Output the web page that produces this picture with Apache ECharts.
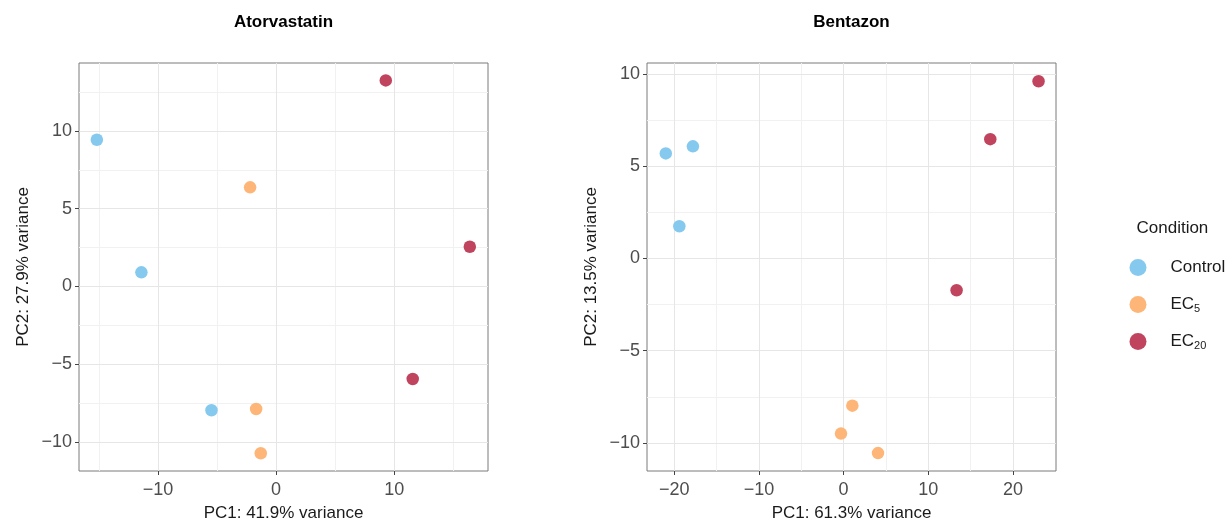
<!DOCTYPE html>
<html>
<head>
<meta charset="utf-8">
<script src="https://cdn.jsdelivr.net/npm/echarts@6/dist/echarts.min.js"></script>
<style>
html,body{margin:0;padding:0;background:#fff;}
#chart{width:1229px;height:524px;}
</style>
</head>
<body>
<div id="chart"></div>
<script>
// ---- data (PC1, PC2) ----
const conditions = ['Control', 'EC5', 'EC20'];
const panelTitles = ['Atorvastatin', 'Bentazon'];
const xNames = ['PC1: 41.9% variance', 'PC1: 61.3% variance'];
const yNames = ['PC2: 27.9% variance', 'PC2: 13.5% variance'];

const atorControl = [[-15.17, 9.43], [-11.4, 0.9], [-5.47, -7.97]];
const atorEC5 = [[-2.2, 6.37], [-1.69, -7.89], [-1.3, -10.74]];
const atorEC20 = [[9.28, 13.25], [16.39, 2.55], [11.56, -5.96]];
const bentControl = [[-21.0, 5.7], [-17.8, 6.08], [-19.4, 1.75]];
const bentEC5 = [[1.03, -7.98], [-0.31, -9.49], [4.06, -10.55]];
const bentEC20 = [[23.02, 9.61], [17.32, 6.47], [13.34, -1.72]];

// tick labels (major breaks) and minor grid positions
const atorXTicks = [-10, 0, 10];
const atorXMinor = [-15, -5, 5, 15];
const atorYTicks = [-10, -5, 0, 5, 10];
const atorYMinor = [-7.5, -2.5, 2.5, 7.5, 12.5];
const bentXTicks = [-20, -10, 0, 10, 20];
const bentXMinor = [-15, -5, 5, 15];
const bentYTicks = [-10, -5, 0, 5, 10];
const bentYMinor = [-7.5, -2.5, 2.5, 7.5];

// axis limits
const atorXRange = [-16.68, 17.93];
const atorYRange = [-11.88, 14.37];
const bentXRange = [-23.22, 25.08];
const bentYRange = [-11.52, 10.6];

const colors = { Control: '#86c9ef', EC5: '#fdb677', EC20: '#c1445e' };
const FONT = '"Liberation Sans", Arial, Helvetica, sans-serif';

const grids = [
  { left: 79, top: 63, width: 409, height: 408, show: true, borderColor: '#7a7a7a', borderWidth: 1, backgroundColor: '#fff', outerBoundsMode: 'none', containLabel: false },
  { left: 647, top: 63, width: 409, height: 408, show: true, borderColor: '#7a7a7a', borderWidth: 1, backgroundColor: '#fff', outerBoundsMode: 'none', containLabel: false }
];

function fmt(v) { return String(v).replace('-', '\u2212'); }

function mainAxis(dim, gridIndex, range, ticks, name) {
  const isX = dim === 'x';
  return {
    type: 'value', gridIndex: gridIndex, min: range[0], max: range[1],
    position: isX ? 'bottom' : 'left',
    name: name, nameLocation: 'middle', nameGap: isX ? 34 : 47,
    nameTextStyle: { fontFamily: FONT, fontSize: 17, color: '#1a1a1a' },
    axisLine: { show: false, onZero: false },
    axisTick: { show: true, length: 4, customValues: ticks, lineStyle: { color: '#444', width: 1 } },
    axisLabel: { show: true, customValues: ticks, formatter: fmt, margin: isX ? 10 : 7,
      fontFamily: FONT, fontSize: 18, color: '#4d4d4d' },
    splitLine: { show: true, lineStyle: { color: '#e6e6e6', width: 1 } },
    z: 1
  };
}
function minorAxis(dim, gridIndex, range, ticks) {
  const isX = dim === 'x';
  return {
    type: 'value', gridIndex: gridIndex, min: range[0], max: range[1],
    position: isX ? 'top' : 'right',
    axisLine: { show: false, onZero: false },
    axisTick: { show: false, customValues: ticks },
    axisLabel: { show: false },
    splitLine: { show: true, lineStyle: { color: '#f1f1f1', width: 1 } },
    z: 0
  };
}

const xAxes = [
  mainAxis('x', 0, atorXRange, atorXTicks, xNames[0]),
  mainAxis('x', 1, bentXRange, bentXTicks, xNames[1]),
  minorAxis('x', 0, atorXRange, atorXMinor),
  minorAxis('x', 1, bentXRange, bentXMinor)
];
const yAxes = [
  mainAxis('y', 0, atorYRange, atorYTicks, yNames[0]),
  mainAxis('y', 1, bentYRange, bentYTicks, yNames[1]),
  minorAxis('y', 0, atorYRange, atorYMinor),
  minorAxis('y', 1, bentYRange, bentYMinor)
];

const panelData = [
  { Control: atorControl, EC5: atorEC5, EC20: atorEC20 },
  { Control: bentControl, EC5: bentEC5, EC20: bentEC20 }
];

const series = [];
panelData.forEach(function (pd, gi) {
  conditions.forEach(function (c) {
    series.push({
      type: 'scatter', name: c, xAxisIndex: gi, yAxisIndex: gi,
      data: pd[c], symbol: 'circle', symbolSize: 12.5,
      itemStyle: { color: colors[c], opacity: 1 },
      emphasis: { disabled: true }, z: 5
    });
  });
});

const option = {
  animation: false,
  backgroundColor: '#fff',
  title: [
    { text: panelTitles[0], left: 283.5, top: 12, textAlign: 'center', padding: 0,
      textStyle: { fontFamily: FONT, fontSize: 17, fontWeight: 'bold', color: '#000', lineHeight: 20 } },
    { text: panelTitles[1], left: 851.5, top: 12, textAlign: 'center', padding: 0,
      textStyle: { fontFamily: FONT, fontSize: 17, fontWeight: 'bold', color: '#000', lineHeight: 20 } },
    { text: 'Condition', left: 1136.5, top: 218, padding: 0,
      textStyle: { fontFamily: FONT, fontSize: 17, fontWeight: 'normal', color: '#1a1a1a', lineHeight: 20 } }
  ],
  legend: {
    data: conditions, orient: 'vertical', left: 1129.5, top: 257.5,
    itemWidth: 17, itemHeight: 17, itemGap: 17, icon: 'circle', padding: 0,
    selectedMode: false,
    formatter: function (n) {
      if (n === 'EC5') return '{a|EC}{s|5}';
      if (n === 'EC20') return '{a|EC}{s|20}';
      return '{a|' + n + '}';
    },
    textStyle: {
      fontFamily: FONT, fontSize: 17, color: '#1a1a1a', lineHeight: 20,
      rich: {
        a: { fontFamily: FONT, fontSize: 17, color: '#1a1a1a', lineHeight: 20, padding: [0, 0, 0, 19] },
        s: { fontFamily: FONT, fontSize: 11, color: '#1a1a1a', lineHeight: 12, verticalAlign: 'bottom' }
      }
    }
  },
  grid: grids,
  xAxis: xAxes,
  yAxis: yAxes,
  series: series
};

const chart = echarts.init(document.getElementById('chart'), null, { renderer: 'canvas' });
chart.setOption(option);
</script>
</body>
</html>
